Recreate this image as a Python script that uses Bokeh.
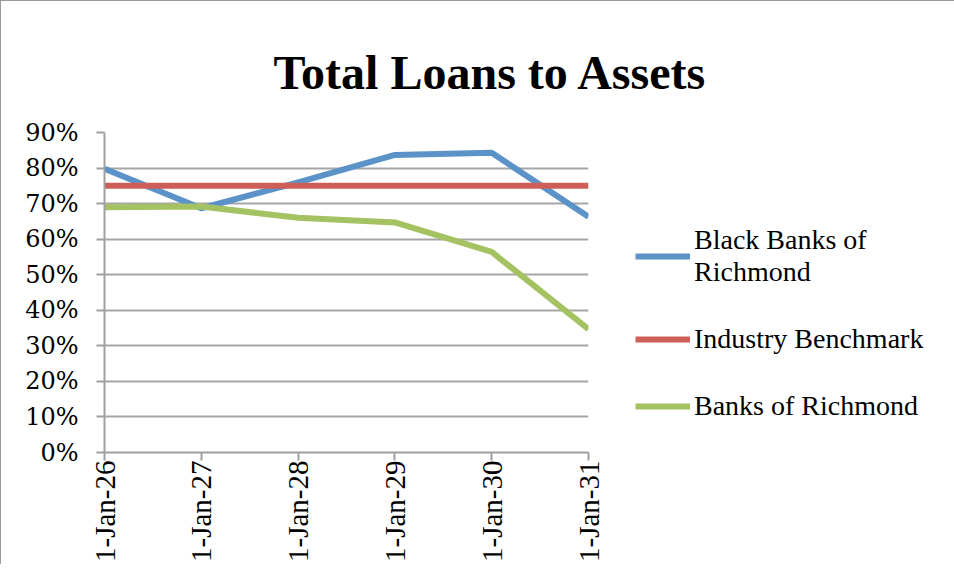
from bokeh.plotting import figure
from bokeh.models import (Range1d, FixedTicker, NumeralTickFormatter, Legend, LegendItem, Title)
from bokeh.embed import file_html
from bokeh.resources import INLINE
from math import pi

dates = ["1-Jan-26", "1-Jan-27", "1-Jan-28", "1-Jan-29", "1-Jan-30", "1-Jan-31"]
black_banks = [0.798, 0.687, 0.760, 0.837, 0.843, 0.663]
benchmark = [0.75, 0.75, 0.75, 0.75, 0.75, 0.75]
banks_richmond = [0.690, 0.692, 0.660, 0.647, 0.564, 0.347]
y_ticks = [0.0, 0.1, 0.2, 0.3, 0.4, 0.5, 0.6, 0.7, 0.8, 0.9]

xs = list(range(len(dates)))

FW, FH = 484, 320
p = figure(frame_width=FW, frame_height=FH, output_backend="svg", toolbar_location=None,
           x_range=Range1d(0, len(dates) - 1), y_range=Range1d(0, 0.9),
           min_border_left=103, min_border_right=353, min_border_top=131,
           min_border_bottom=112)
p.styles = {"border-top": "1px solid #9a9a9a", "border-left": "1px solid #9a9a9a"}
p.outline_line_color = None

t = Title(text="Total Loans to Assets", text_font="Liberation Serif", text_font_size="48px",
          text_font_style="bold", text_color="black", align="left", offset=169, standoff=67)
p.add_layout(t, "above")

serif = "Liberation Serif"
p.yaxis.ticker = FixedTicker(ticks=y_ticks)
p.yaxis.formatter = NumeralTickFormatter(format="0%")
p.xaxis.ticker = FixedTicker(ticks=xs)
p.xaxis.major_label_overrides = {i: d for i, d in enumerate(dates)}
p.xaxis.major_label_orientation = pi / 2
for ax in (p.xaxis, p.yaxis):
    ax.axis_line_color = "#a0a0a0"
    ax.axis_line_width = 2
    ax.major_tick_line_color = "#a0a0a0"
    ax.major_tick_line_width = 2
    ax.major_tick_in = 0
    ax.major_tick_out = 8
    ax.minor_tick_line_color = None
    ax.major_label_text_color = "black"
p.xaxis.major_label_text_font = serif
p.yaxis.major_label_text_font = "DejaVu Serif"
p.yaxis.major_label_text_font_size = "24px"
p.xaxis.major_label_text_font_size = "29px"
p.yaxis.major_label_standoff = 18
p.xaxis.major_label_standoff = 0

p.xgrid.grid_line_color = None
p.ygrid.ticker = FixedTicker(ticks=y_ticks)
p.ygrid.grid_line_color = "#a6a6a6"
p.ygrid.grid_line_width = 2

r1 = p.line(xs, black_banks, line_color="#5b93c9", line_width=6, line_join="round")
r2 = p.line(xs, benchmark, line_color="#cd5f58", line_width=6, line_join="round")
r3 = p.line(xs, banks_richmond, line_color="#a5c262", line_width=6, line_join="round")

legend = Legend(items=[LegendItem(label="Black Banks of\nRichmond", renderers=[r1]),
                       LegendItem(label="Industry Benchmark", renderers=[r2]),
                       LegendItem(label="Banks of Richmond", renderers=[r3])],
                location=(47, 30), padding=0, margin=0, spacing=35,
                border_line_color=None, background_fill_alpha=0,
                glyph_width=55, label_standoff=4, label_text_font=serif,
                label_text_font_size="28px", label_text_color="black")
p.add_layout(legend, "right")

open("out.html", "w").write(file_html(p, INLINE))
